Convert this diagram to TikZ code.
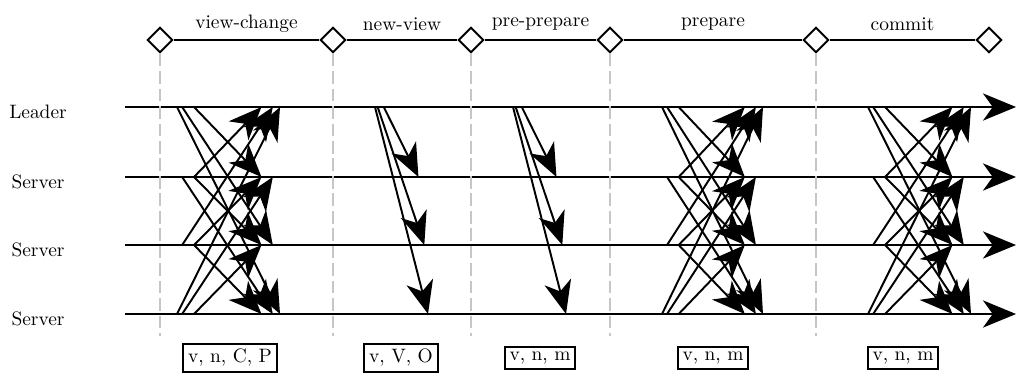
\documentclass[tikz,border=0pt]{standalone}
\usepackage{amsmath,amssymb}
\usepackage{xcolor}
\usepackage{tikz}
\usetikzlibrary{arrows.meta, positioning, shapes.geometric, calc}

% messages of one phase: start x, width, senders
\newcommand{\phasemsgs}[3]{%
  \foreach \i in {#3} {
    \foreach \j in {0,...,3} {
      \ifnum\i=\j\else
        \pgfmathtruncatemacro\dd{abs(\i-\j)}
        \pgfmathsetmacro\xa{#1+#2*{0,0.165,0.05,0}[\dd]}
        \pgfmathsetmacro\xb{#1+#2*{0,0.82,0.93,1}[\dd]}
        \draw[arr] (\xa,0 |- r\i) -- (\xb,0 |- r\j);
      \fi
    }
  }%
}

\begin{document}
\begin{tikzpicture}[
    x=0.515pt, y=-0.515pt,
    arr/.style={-{Stealth[length=17pt, width=14pt, inset=5pt]}, line width=1pt},
    tl/.style={arr},
    phasept/.style={diamond, draw, line width=1pt, fill=white,
                    minimum size=13pt, inner sep=0pt},
    divider/.style={gray!45, line width=1pt, dash pattern=on 6.5pt off 2.5pt},
    field/.style={rectangle, draw, line width=1pt, inner sep=2.5pt},
    who/.style={font=\normalsize},
  ]
    \useasboundingbox (0,0) rectangle (1016,383);

    % Timelines
    \coordinate (r0) at (125,107);
    \coordinate (r1) at (125,177);
    \coordinate (r2) at (125,245);
    \coordinate (r3) at (125,314);
    \foreach \k in {0,...,3}
      \draw[tl] (r\k) -- (1016,0 |- r\k);

    \node[who] (lab0) at (38,112) {Leader};
    \node[who] (lab1) at (38,182) {Server};
    \node[who] (lab2) at (38,250) {Server};
    \node[who] (lab3) at (38,319) {Server};

    % Phases
    \coordinate (base) at (0,336);
    \foreach \k/\x in {0/160, 1/333, 2/471, 3/610, 4/816, 5/989}
      \node[phasept] (p\k) at (\x,40) {};
    \foreach \k in {0,...,4}
      \draw[divider] (p\k) -- (p\k |- base);
    \foreach \k/\l in {0/1, 1/2, 2/3, 3/4, 4/5}
      \draw[line width=1pt] (p\k) -- (p\l);

    \node (n0) at ($(p0)!0.5!(p1)+(0,-16)$) {view-change};
    \node (n1) at ($(p1)!0.5!(p2)+(0,-16)$) {new-view};
    \node (n2) at ($(p2)!0.5!(p3)+(0,-16)$) {pre-prepare};
    \node (n3) at ($(p3)!0.5!(p4)+(0,-16)$) {prepare};
    \node (n4) at ($(p4)!0.5!(p5)+(0,-16)$) {commit};

    % Messages
    \phasemsgs{177}{103}{0,1,2,3}
    \phasemsgs{375}{53}{0}
    \phasemsgs{513}{53}{0}
    \phasemsgs{662}{101}{0,1,2,3}
    \phasemsgs{868}{103}{0,1,2,3}

    % Message contents
    \node[field] (f0) at (230,358) {v, n, C, P};
    \node[field] (f1) at (401,358) {v, V, O};
    \node[field] (f2) at (540,358) {v, n, m};
    \node[field] (f3) at (713,358) {v, n, m};
    \node[field] (f4) at (903,358) {v, n, m};
  \end{tikzpicture}
\end{document}
